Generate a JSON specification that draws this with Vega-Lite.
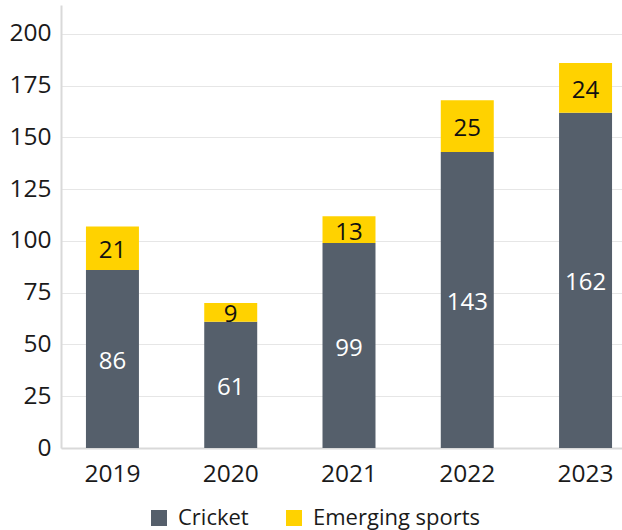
{
  "$schema": "https://vega.github.io/schema/vega-lite/v6.json",
  "width": 561,
  "height": 443,
  "autosize": {"type": "none"},
  "padding": {"left": 61, "top": 5, "right": 0, "bottom": 82},
  "background": "white",
  "config": {
    "view": {"stroke": null},
    "font": "Open Sans",
    "axis": {"labelFont": "Open Sans", "labelFontSize": 24.5, "labelColor": "#1a1a1a"}
  },
  "data": {
    "values": [
      {"year": "2019", "sport": "Cricket", "ord": 1, "value": 86},
      {"year": "2019", "sport": "Emerging sports", "ord": 2, "value": 21},
      {"year": "2020", "sport": "Cricket", "ord": 1, "value": 61},
      {"year": "2020", "sport": "Emerging sports", "ord": 2, "value": 9},
      {"year": "2021", "sport": "Cricket", "ord": 1, "value": 99},
      {"year": "2021", "sport": "Emerging sports", "ord": 2, "value": 13},
      {"year": "2022", "sport": "Cricket", "ord": 1, "value": 143},
      {"year": "2022", "sport": "Emerging sports", "ord": 2, "value": 25},
      {"year": "2023", "sport": "Cricket", "ord": 1, "value": 162},
      {"year": "2023", "sport": "Emerging sports", "ord": 2, "value": 24}
    ]
  },
  "transform": [
    {"stack": "value", "groupby": ["year"], "sort": [{"field": "ord", "order": "ascending"}], "as": ["v0", "v1"]},
    {"calculate": "(datum.v0 + datum.v1) / 2", "as": "mid"}
  ],
  "encoding": {
    "x": {
      "field": "year", "type": "ordinal", "title": null,
      "scale": {"range": [0, 576], "paddingInner": 0.552, "paddingOuter": 0.211},
      "axis": {"labelAngle": 0, "ticks": false, "labelPadding": 14, "domainColor": "#d9d9d9", "domainWidth": 2, "grid": false}
    }
  },
  "layer": [
    {
      "mark": {"type": "bar"},
      "encoding": {
        "y": {
          "field": "v0", "type": "quantitative", "title": null,
          "scale": {"domain": [0, 214], "nice": false},
          "axis": {"values": [0, 25, 50, 75, 100, 125, 150, 175, 200], "ticks": false, "labelPadding": 10,
                   "domainColor": "#d9d9d9", "domainWidth": 2, "gridColor": "#e6e6e6", "gridWidth": 1}
        },
        "y2": {"field": "v1"},
        "color": {
          "field": "sport", "type": "nominal", "title": null,
          "scale": {"domain": ["Cricket", "Emerging sports"], "range": ["#555F6B", "#FFD200"]},
          "legend": {
            "orient": "none", "legendX": 87, "legendY": 502, "direction": "horizontal",
            "symbolType": "square", "symbolSize": 256, "symbolStrokeWidth": 0, "symbolOpacity": 1,
            "labelFont": "Open Sans", "labelFontSize": 22, "labelColor": "#1a1a1a", "labelLimit": 0,
            "labelOffset": 8, "columnPadding": 34, "padding": 0
          }
        }
      }
    },
    {
      "mark": {"type": "text", "font": "Open Sans", "fontSize": 24, "baseline": "middle", "align": "center", "dy": 3},
      "encoding": {
        "y": {"field": "mid", "type": "quantitative"},
        "text": {"field": "value", "type": "quantitative"},
        "color": {"condition": {"test": "datum.sport === 'Cricket'", "value": "white"}, "value": "#111111"}
      }
    }
  ]
}
